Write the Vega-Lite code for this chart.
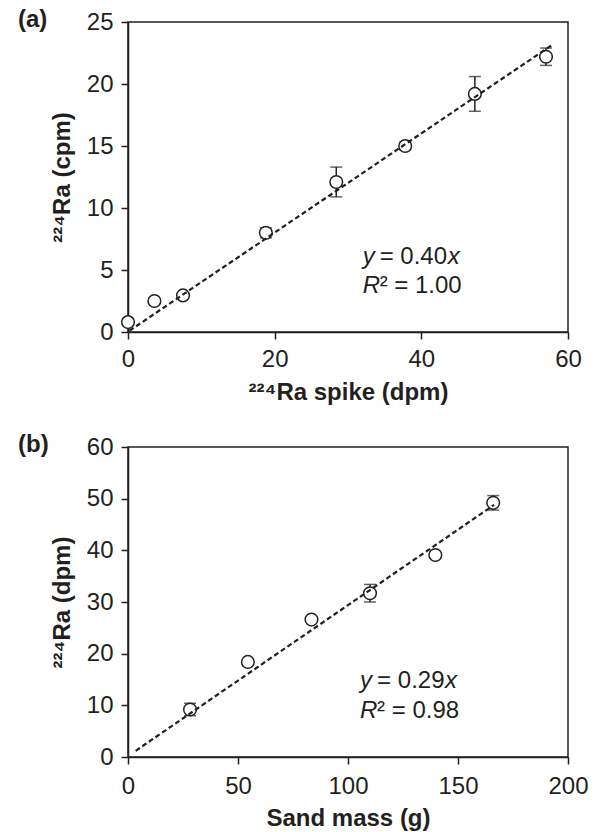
{
  "$schema": "https://vega.github.io/schema/vega-lite/v6.json",
  "background": "white",
  "padding": {"left": 17, "top": 7, "right": 5, "bottom": 0},
  "config": {
    "font": "Liberation Sans",
    "view": {"stroke": "#231f20", "strokeWidth": 1.5},
    "axis": {
      "domainColor": "#231f20", "domainWidth": 1.5,
      "tickColor": "#231f20", "tickWidth": 1.5, "tickSize": 7,
      "labelFontSize": 24, "labelColor": "#231f20", "labelFont": "Liberation Sans",
      "labelPadding": 8,
      "titleFontSize": 24, "titleFontWeight": "bold", "titleColor": "#231f20", "titleFont": "Liberation Sans",
      "grid": false, "labelFlush": false, "labelOverlap": false
    },
    "title": {"fontSize": 24, "fontWeight": "bold", "color": "#231f20", "font": "Liberation Sans", "anchor": "start", "frame": "group"}
  },
  "datasets": {
    "pointsA": [
      {"x": 0, "y": 0.8, "err": 0},
      {"x": 3.6, "y": 2.5, "err": 0},
      {"x": 7.5, "y": 2.95, "err": 0},
      {"x": 18.8, "y": 8.0, "err": 0.4},
      {"x": 28.4, "y": 12.1, "err": 1.2},
      {"x": 37.8, "y": 15.0, "err": 0.3},
      {"x": 47.3, "y": 19.2, "err": 1.4},
      {"x": 57.0, "y": 22.2, "err": 0.7}
    ],
    "fitA": [
      {"x": 0.2, "y": 0.1},
      {"x": 57.7, "y": 23.1}
    ],
    "annA": [
      {"x": 32, "y": 5.5, "line": "eq", "a": "y", "b": "= 0.40", "c": "x"},
      {"x": 32, "y": 3.15, "line": "r2", "a": "R", "b": "² = 1.00", "c": ""}
    ],
    "pointsB": [
      {"x": 28.2, "y": 9.2, "err": 1.2},
      {"x": 54.5, "y": 18.4, "err": 0},
      {"x": 83.4, "y": 26.6, "err": 0},
      {"x": 110, "y": 31.7, "err": 1.7},
      {"x": 139.7, "y": 39.1, "err": 0},
      {"x": 166, "y": 49.2, "err": 1.4}
    ],
    "fitB": [
      {"x": 3.5, "y": 1.2},
      {"x": 166.4, "y": 48.8}
    ],
    "annB": [
      {"x": 105.5, "y": 13.4, "line": "eq", "a": "y", "b": "= 0.29", "c": "x"},
      {"x": 105.5, "y": 7.5, "line": "r2", "a": "R", "b": "² = 0.98", "c": ""}
    ]
  },
  "spacing": 27,
  "vconcat": [
    {
      "width": 440, "height": 310,
      "title": {"text": "(a)", "dx": -110, "offset": -22, "baseline": "top"},
      "encoding": {
        "x": {"field": "x", "type": "quantitative", "scale": {"domain": [0, 60], "nice": false, "zero": false},
              "axis": {"values": [0, 20, 40, 60], "title": "²²⁴Ra spike (dpm)", "titlePadding": 9}},
        "y": {"field": "y", "type": "quantitative", "scale": {"domain": [0, 25], "nice": false, "zero": false},
              "axis": {"values": [0, 5, 10, 15, 20, 25], "title": "²²⁴Ra (cpm)", "titlePadding": 12}}
      },
      "layer": [
        {"data": {"name": "pointsA"}, "transform": [{"filter": "datum.err > 0"}],
         "mark": {"type": "errorbar", "color": "#231f20", "thickness": 1.5, "ticks": {"size": 12, "thickness": 1.5, "color": "#231f20"}},
         "encoding": {"yError": {"field": "err"}}},
        {"data": {"name": "pointsA"},
         "mark": {"type": "circle", "size": 160, "fill": "white", "stroke": "#231f20", "strokeWidth": 1.5, "opacity": 1, "fillOpacity": 1}},
        {"data": {"name": "fitA"},
         "mark": {"type": "line", "color": "#231f20", "strokeWidth": 2.2, "strokeDash": [5, 3]}},
        {"data": {"name": "annA"},
         "mark": {"type": "text", "align": "left", "baseline": "alphabetic", "fontSize": 24, "fontStyle": "italic", "color": "#231f20"},
         "encoding": {"text": {"field": "a"}}},
        {"data": {"name": "annA"}, "transform": [{"filter": "datum.line == 'eq'"}],
         "mark": {"type": "text", "align": "left", "baseline": "alphabetic", "fontSize": 24, "dx": 17, "color": "#231f20"},
         "encoding": {"text": {"field": "b"}}},
        {"data": {"name": "annA"}, "transform": [{"filter": "datum.line == 'r2'"}],
         "mark": {"type": "text", "align": "left", "baseline": "alphabetic", "fontSize": 24, "dx": 17, "color": "#231f20"},
         "encoding": {"text": {"field": "b"}}},
        {"data": {"name": "annA"}, "transform": [{"filter": "datum.line == 'eq'"}],
         "mark": {"type": "text", "align": "left", "baseline": "alphabetic", "fontSize": 24, "fontStyle": "italic", "dx": 85, "color": "#231f20"},
         "encoding": {"text": {"field": "c"}}}
      ]
    },
    {
      "width": 440, "height": 310,
      "title": {"text": "(b)", "dx": -110, "offset": -22, "baseline": "top"},
      "encoding": {
        "x": {"field": "x", "type": "quantitative", "scale": {"domain": [0, 200], "nice": false, "zero": false},
              "axis": {"values": [0, 50, 100, 150, 200], "title": "Sand mass (g)", "titlePadding": 8, "labelPadding": 10}},
        "y": {"field": "y", "type": "quantitative", "scale": {"domain": [0, 60], "nice": false, "zero": false},
              "axis": {"values": [0, 10, 20, 30, 40, 50, 60], "title": "²²⁴Ra (dpm)", "titlePadding": 12}}
      },
      "layer": [
        {"data": {"name": "pointsB"}, "transform": [{"filter": "datum.err > 0"}],
         "mark": {"type": "errorbar", "color": "#231f20", "thickness": 1.5, "ticks": {"size": 12, "thickness": 1.5, "color": "#231f20"}},
         "encoding": {"yError": {"field": "err"}}},
        {"data": {"name": "pointsB"},
         "mark": {"type": "circle", "size": 160, "fill": "white", "stroke": "#231f20", "strokeWidth": 1.5, "opacity": 1, "fillOpacity": 1}},
        {"data": {"name": "fitB"},
         "mark": {"type": "line", "color": "#231f20", "strokeWidth": 2.2, "strokeDash": [5, 3]}},
        {"data": {"name": "annB"},
         "mark": {"type": "text", "align": "left", "baseline": "alphabetic", "fontSize": 24, "fontStyle": "italic", "color": "#231f20"},
         "encoding": {"text": {"field": "a"}}},
        {"data": {"name": "annB"}, "transform": [{"filter": "datum.line == 'eq'"}],
         "mark": {"type": "text", "align": "left", "baseline": "alphabetic", "fontSize": 24, "dx": 17, "color": "#231f20"},
         "encoding": {"text": {"field": "b"}}},
        {"data": {"name": "annB"}, "transform": [{"filter": "datum.line == 'r2'"}],
         "mark": {"type": "text", "align": "left", "baseline": "alphabetic", "fontSize": 24, "dx": 17, "color": "#231f20"},
         "encoding": {"text": {"field": "b"}}},
        {"data": {"name": "annB"}, "transform": [{"filter": "datum.line == 'eq'"}],
         "mark": {"type": "text", "align": "left", "baseline": "alphabetic", "fontSize": 24, "fontStyle": "italic", "dx": 85, "color": "#231f20"},
         "encoding": {"text": {"field": "c"}}}
      ]
    }
  ]
}
